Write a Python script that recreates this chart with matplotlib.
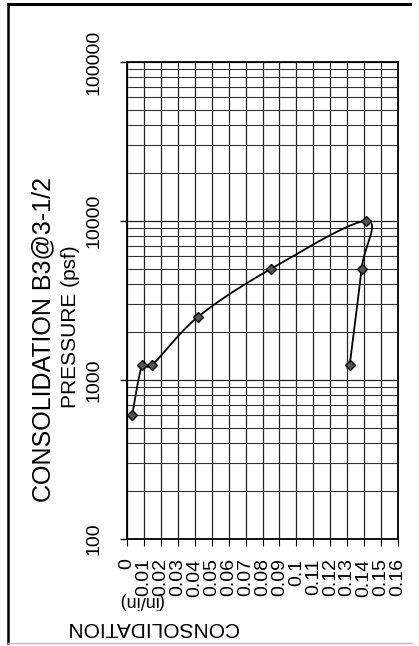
import numpy as np
import matplotlib
matplotlib.use("Agg")
import matplotlib.pyplot as plt
from matplotlib.lines import Line2D
from matplotlib.ticker import LogLocator, NullFormatter, FixedLocator

# consolidation test B3 @ 3-1/2 ft (load then unload)
consolidation = [0.003, 0.009, 0.015, 0.042, 0.085, 0.141, 0.1385, 0.1315]
pressure = [600, 1250, 1250, 2500, 5000, 10000, 5000, 1250]

x_ticks = [round(0.01 * i, 2) for i in range(17)]
x_tick_labels = ["0" if v == 0 else f"{v:g}" for v in x_ticks]
y_ticks = [100, 1000, 10000, 100000]
y_tick_labels = ["100", "1000", "10000", "100000"]

plt.rcParams["font.family"] = ["Liberation Sans", "DejaVu Sans"]

W, H = 419, 646
fig = plt.figure(figsize=(W / 100, H / 100), dpi=100)
ax = fig.add_axes([127 / W, 1 - 539 / H, 271 / W, 477 / H])

xmin, xmax = 0, 0.16
ymin, ymax = 100, 100000
ax.set_xlim(xmin, xmax)
ax.set_yscale("log")
ax.set_ylim(ymin, ymax)


def smooth(xs, ys, n=30):
    # excel style smoothed line, done in plot space (x linear, y log)
    pw, ph = 271.0, 477.0
    P = np.column_stack([(np.array(xs) - xmin) / (xmax - xmin) * pw,
                         (np.log10(ys) - 2) / 3 * ph])
    out = [P[0]]
    for i in range(len(P) - 1):
        p0 = P[i - 1] if i > 0 else P[i]
        p1, p2 = P[i], P[i + 1]
        p3 = P[i + 2] if i + 2 < len(P) else P[i + 1]
        c1 = p1 + (p2 - p0) / 6
        c2 = p2 - (p3 - p1) / 6
        t = np.linspace(0, 1, n)[1:, None]
        seg = ((1 - t) ** 3) * p1 + 3 * ((1 - t) ** 2) * t * c1 \
            + 3 * (1 - t) * t ** 2 * c2 + t ** 3 * p2
        out.extend(seg)
    out = np.array(out)
    return out[:, 0] / pw * (xmax - xmin) + xmin, 10 ** (out[:, 1] / ph * 3 + 2)


sx, sy = smooth(consolidation, pressure)
ax.plot(sx, sy, color="black", lw=1.3, zorder=3)
ax.plot(consolidation, pressure, ls="none", marker="D", ms=5.5,
        mfc="#555555", mec="black", mew=1.0, zorder=4)

# grid
ax.xaxis.set_major_locator(FixedLocator(x_ticks))
ax.set_xticklabels(x_tick_labels, rotation=90, fontsize=14)
ax.yaxis.set_major_locator(FixedLocator(y_ticks))
ax.set_yticklabels(y_tick_labels, rotation=90, va="center", fontsize=14)
ax.yaxis.set_minor_locator(LogLocator(base=10, subs=range(2, 10)))
ax.yaxis.set_minor_formatter(NullFormatter())
ax.grid(True, which="major", color="#222222", lw=0.9)
ax.grid(True, which="minor", axis="y", color="#333333", lw=0.8)
ax.tick_params(axis="x", which="major", direction="out", length=5, width=0.8, pad=9)
ax.tick_params(axis="y", which="major", direction="out", length=5, width=1.0, pad=13)
ax.tick_params(axis="y", which="minor", length=0)
for s in ax.spines.values():
    s.set_color("black")
    s.set_linewidth(1.3)

# titles (page is rotated)
fig.text(43 / W, 1 - 340 / H, "CONSOLIDATION B3@3-1/2", rotation=90,
         ha="center", va="center", fontsize=18)
fig.text(70 / W, 1 - 327 / H, "PRESSURE (psf)", rotation=90,
         ha="center", va="center", fontsize=15)
fig.text(152 / W, 1 - 628 / H, "CONSOLIDATION", rotation=180,
         ha="center", va="center", fontsize=15)
fig.text(140 / W, 1 - 600 / H, "(in/in)", rotation=180,
         ha="center", va="center", fontsize=13)

# page frame of the scan
fig.add_artist(Line2D([8 / W, 8 / W], [1 - 4 / H, 1 - 643 / H],
                      transform=fig.transFigure, color="black", lw=1.8))
fig.add_artist(Line2D([8 / W, 410 / W], [1 - 4 / H, 1 - 4 / H],
                      transform=fig.transFigure, color="black", lw=2.2))
fig.add_artist(Line2D([8 / W, 412 / W], [1 - 643 / H, 1 - 643 / H],
                      transform=fig.transFigure, color="#bbbbbb", lw=1.0))

fig.savefig("out.png", dpi=100)
